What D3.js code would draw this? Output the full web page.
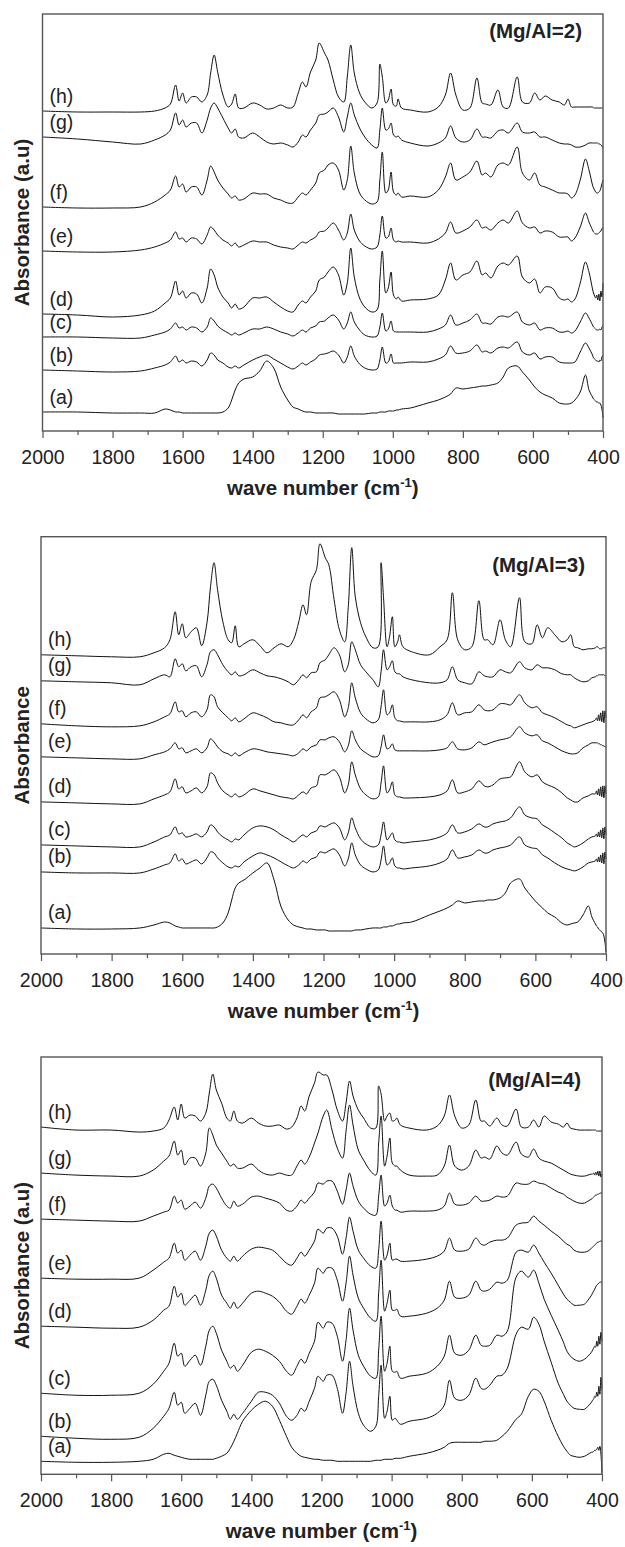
<!DOCTYPE html>
<html lang="en">
<head>
<meta charset="utf-8">
<title>FTIR spectra, Mg/Al = 2, 3, 4</title>
<style>
   body { margin:0; background:#fff; }
   svg { display:block; font-family:"Liberation Sans", Arial, sans-serif; }
   .spec { fill:none; stroke:#111; stroke-width:1; stroke-linejoin:round; }
   .frame { fill:none; stroke:#555; stroke-width:1.4; }
   .axis path { display:none; }
   .axis line { stroke:#555; stroke-width:1.2; }
   .axis text { font-size:19.5px; fill:#222; font-family:"Liberation Sans", Arial, sans-serif; }
   .lab { font-size:19.5px; fill:#222; }
   .ttl { font-size:20.5px; font-weight:bold; fill:#222; }
</style>
<script src="https://cdn.jsdelivr.net/npm/d3@7"></script>
</head>
<body>
<svg id="chart" width="625" height="1547"></svg>
<script>
// shared wavenumber grid (cm-1), values at these points
var wavenumbers = [2000,1900,1800,1720,1680,1650,1635,1620,1610,1600,
   1590,1575,1560,1545,1530,1520,1510,1500,1485,1470,
   1460,1450,1440,1425,1400,1380,1360,1340,1320,1300,
   1285,1270,1258,1248,1235,1220,1210,1195,1185,1170,
   1155,1140,1130,1120,1110,1095,1080,1060,1045,1037,
   1030,1020,1013,1005,998,990,985,975,950,900,
   870,850,835,820,800,780,760,745,735,720,
   700,685,670,645,630,610,595,580,565,545,
   525,510,500,490,480,465,450,440,430,427,424,421,418,415,412,409,406,403,400];
var xTicks = [2000,1800,1600,1400,1200,1000,800,600,400];
var xMinor = [1900,1700,1500,1300,1100,900,700,500];
var sampleLabels = ['(a)','(b)','(c)','(d)','(e)','(f)','(g)','(h)'];
var ratioLabels = ['(Mg/Al=2)','(Mg/Al=3)','(Mg/Al=4)'];
var yTitles = ['Absorbance (a.u)','Absorbance','Absorbance (a.u)'];

// Mg/Al = 2 (absorbance, arbitrary stacked units)
var mg2_a = [19,19,18,18,18,22,21,19,19,18, 18,18,18,18,18,18,18,18,19,23, 31,41,48,52,54,60,70,63,44,31, 24,22,20,19,19,18,18,18,18,18, 17,17,17,17,17,17,17,18,18,19, 19,19,20,20,20,21,21,22,23,28, 31,34,37,43,42,43,44,45,45,46, 48,54,63,65,59,51,44,39,36,33,
   28,27,27,28,31,39,56,41, 34,32,31,30,29,29,28,28,26,22,13];
var mg2_b = [61,60,59,60,63,66,69,75,69,71, 68,70,69,65,71,78,76,71,68,64, 63,65,63,66,71,74,76,72,68,64, 62,65,68,66,69,72,76,77,78,80, 76,68,74,85,75,67,63,61,62,71, 84,68,69,77,68,68,68,68,69,69, 72,76,85,78,78,80,86,79,80,78, 83,84,83,89,79,76,78,72,74,74,
   69,68,68,68,69,79,88,83, 76,73,72,71,70,70,69,71,70,74,76];
var mg2_c = [94,94,93,93,96,99,102,108,103,104, 101,104,103,99,104,113,110,105,101,98, 96,98,96,98,102,102,104,102,99,97, 95,98,101,99,103,105,109,110,113,116, 111,102,108,119,109,101,96,94,95,104, 118,100,102,110,100,99,99,99,99,99, 102,106,116,106,108,111,117,108,108,107, 114,115,114,119,109,106,108,101,103,103,
   99,99,100,98,100,109,118,113, 106,104,103,102,101,101,101,102,101,104,105];
var mg2_d = [117,116,114,116,120,128,133,150,136,140, 133,138,137,128,143,162,156,144,134,128, 123,127,122,124,133,133,134,129,124,120, 119,126,130,128,134,140,151,154,159,164, 156,136,148,183,154,133,124,119,121,151, 180,138,143,159,136,132,134,130,131,132, 136,151,168,151,156,159,170,156,158,153, 165,168,166,175,154,148,152,138,144,143,
   133,131,132,129,132,148,169,159, 142,138,135,133,136,131,137,130,140,134,148];
var mg2_e = [180,179,179,181,184,188,191,199,192,193, 189,193,192,187,196,204,201,196,191,188, 185,188,184,186,190,189,189,186,184,183, 182,186,189,188,191,194,199,200,203,208, 201,191,198,217,201,190,185,182,184,196, 215,193,194,203,191,189,190,189,189,188, 192,198,209,198,200,204,211,203,204,201, 208,211,208,220,208,203,204,198,200,199,
   194,194,194,190,193,204,218,209, 201,199,198,197,197,197,198,199,200,202,204];
var mg2_f = [224,223,223,224,229,236,241,255,244,247, 239,244,244,236,251,265,259,251,243,237, 233,235,231,232,238,237,237,233,231,228, 228,234,238,236,241,248,258,261,266,268, 261,241,251,285,258,238,231,227,229,251, 279,238,241,259,239,236,238,234,235,234, 241,254,268,251,254,259,270,256,258,254, 266,268,266,284,258,251,258,246,244,241,
   238,238,237,233,236,251,272,261, 246,243,241,239,238,238,239,240,243,247,251];
var mg2_g = [294,292,289,287,291,296,301,318,306,311, 304,308,308,298,311,323,328,323,313,303, 298,302,294,293,298,294,289,287,288,286, 284,289,296,294,301,308,316,317,319,323, 314,299,314,328,316,303,294,286,283,301, 323,301,302,308,296,294,295,291,288,285, 288,293,305,293,289,291,302,294,294,293, 300,301,298,308,299,298,299,294,294,291,
   288,287,287,286,284,284,286,288, 288,288,288,288,288,288,287,287,286,285,283];
var mg2_h = [320,319,319,319,320,323,327,346,330,338, 328,334,334,329,336,358,376,359,336,324, 327,337,323,323,328,326,322,323,326,323, 324,338,349,344,359,371,388,378,371,351, 334,329,354,386,358,338,329,323,328,367, 354,328,331,342,326,325,332,323,321,319, 324,336,358,336,321,323,353,328,327,326, 341,324,323,354,329,328,338,331,335,331,
   329,326,332,324,324,324,324,324, 324,323,323,323,323,323,323,323,323,323,324];

// Mg/Al = 3
var mg3_a = [26,25,25,26,29,32,31,28,27,26, 26,26,26,26,26,26,26,27,31,41, 54,66,71,74,81,86,91,74,47,34, 29,27,26,25,25,24,24,24,23,23, 23,23,23,23,24,24,25,26,26,26, 27,27,28,28,29,30,30,31,32,39, 43,46,49,53,51,52,53,53,54,54, 56,61,71,75,66,57,51,46,41,37,
   31,29,30,31,32,39,48,37, 30,28,27,25,24,23,22,21,18,12,2];
var mg3_b = [82,81,81,81,85,89,91,100,93,95, 90,92,94,90,96,102,101,96,91,87, 86,88,87,92,98,101,99,96,92,88, 86,89,93,91,95,97,102,101,103,105, 99,88,95,111,99,89,85,82,84,94, 108,89,91,96,88,86,86,85,86,88, 91,95,104,96,97,99,104,101,101,104, 106,107,109,117,109,106,105,99,96,91,
   87,85,84,83,84,87,91,92, 93,95,92,97,92,99,91,101,90,102,95];
var mg3_c = [109,108,107,107,112,117,119,127,120,121, 117,118,120,117,122,129,127,122,117,114, 112,115,114,119,126,128,127,124,119,115, 112,116,119,117,121,123,128,127,129,131, 126,114,121,136,126,115,110,107,109,119, 132,114,117,121,114,112,112,111,112,114, 117,121,129,121,122,125,130,127,127,130, 132,133,136,147,139,136,135,129,126,121,
   116,111,109,107,108,111,115,117, 118,120,117,122,117,124,116,126,115,127,119];
var mg3_d = [152,151,150,150,155,159,162,175,165,167, 161,163,166,161,167,181,179,171,163,159, 157,160,157,159,165,163,161,159,157,156, 155,159,162,160,166,168,179,179,181,184, 177,161,169,192,179,165,159,155,157,171, 188,161,164,172,159,157,157,156,156,157, 159,163,174,161,162,165,173,168,167,169, 175,176,177,192,182,177,179,172,169,166,
   161,156,154,152,152,156,158,160, 160,163,159,165,158,167,157,168,156,168,160];
var mg3_e = [197,196,195,195,199,202,205,211,205,206, 201,203,205,201,206,215,212,207,202,200, 198,201,198,201,205,204,202,201,200,199, 198,201,205,203,207,209,214,214,216,217, 212,202,208,223,214,205,201,197,198,207, 219,205,206,210,204,203,203,203,203,203, 204,206,212,205,204,206,212,209,210,212, 214,215,217,227,221,218,219,213,211,207,
   203,201,200,200,201,206,209,211, 211,211,211,210,210,209,209,208,208,207,207];
var mg3_f = [230,228,227,228,232,237,240,252,242,243, 237,241,242,237,244,259,257,247,241,236, 233,236,232,235,241,239,236,232,231,229, 229,234,239,236,242,246,256,257,259,262, 254,237,246,271,256,241,235,231,234,247, 264,239,241,249,236,233,233,232,232,232, 234,239,251,239,241,242,249,244,243,244, 250,250,249,259,251,246,247,241,239,236,
   232,229,228,226,227,229,231,232, 234,236,233,239,233,241,232,243,231,243,236];
var mg3_g = [273,272,271,269,275,279,277,295,287,290, 283,287,288,277,289,302,304,299,289,282, 279,282,278,279,284,281,278,277,275,272, 269,274,279,276,281,282,291,294,299,306, 299,282,289,312,304,289,282,274,267,282, 304,284,287,293,282,280,280,277,274,271, 271,274,287,274,271,270,282,278,277,277, 284,282,281,292,286,284,289,286,286,284,
   280,279,279,276,274,272,273,276, 277,278,278,279,279,279,279,279,279,278,278];
var mg3_h = [299,298,297,297,301,306,314,342,319,330, 316,322,326,308,331,367,391,364,332,314, 311,328,307,310,314,308,301,306,310,307, 314,332,349,339,372,384,410,396,389,354, 324,312,346,406,357,331,317,306,307,391, 356,307,317,337,307,312,319,307,302,299, 307,314,361,314,304,307,353,314,314,309, 334,314,307,356,312,310,329,316,326,319,
   312,314,319,307,306,304,305,305, 306,307,307,306,305,305,305,306,306,306,307];

// Mg/Al = 4
var mg4_a = [13,12,12,13,15,20,21,19,18,17, 16,15,15,15,15,15,15,16,18,21, 26,33,41,53,64,70,73,68,54,38, 27,21,18,17,16,15,15,14,14,14, 13,13,13,13,13,13,13,13,14,14, 14,15,15,15,15,16,16,16,18,21, 24,27,31,32,32,32,32,32,33,33, 34,38,43,55,60,78,85,83,73,54,
   38,28,23,19,18,17,18,20, 22,22,23,24,24,25,27,24,28,20,1];
var mg4_b = [38,36,35,37,46,58,66,82,69,72, 61,66,71,59,79,93,95,89,74,63, 55,60,55,61,73,82,82,79,71,58, 54,59,66,63,73,86,98,93,99,99, 86,61,81,113,88,61,49,43,48,78, 109,56,63,78,54,56,54,50,53,56, 61,69,94,76,74,79,96,86,85,89, 98,99,106,140,147,145,157,150,133,112,
   91,80,73,69,66,65,65,68, 72,74,75,78,77,82,78,88,80,97,85];
var mg4_c = [81,79,79,81,90,103,111,131,118,121, 108,114,119,109,128,144,148,141,124,113, 106,109,103,109,122,125,123,119,113,103, 99,108,115,111,121,133,152,146,152,151, 138,113,134,166,144,119,108,98,96,124, 158,103,111,128,103,102,103,96,98,101, 108,118,139,121,119,124,139,129,128,129, 139,138,143,197,203,197,204,191,175,159,
   144,132,123,118,115,113,115,118, 122,124,126,128,127,133,128,138,130,142,133];
var mg4_d = [148,147,146,147,154,164,168,188,177,181, 169,174,179,169,184,199,203,196,179,171, 166,172,166,171,181,183,181,178,172,163, 160,168,175,171,179,191,206,201,206,206, 194,173,191,218,199,176,166,156,153,181, 214,163,171,184,164,164,165,158,158,161, 166,174,193,177,176,179,193,184,183,185, 192,191,194,222,224,222,229,221,212,201,
   189,180,175,172,169,169,170,174, 179,181,183,185,187,189,190,191,192,192,192];
var mg4_e = [196,195,195,196,204,212,216,231,221,224, 214,219,223,214,228,241,244,238,224,216, 213,218,213,218,225,227,226,224,218,211, 209,216,222,218,224,233,245,241,246,246, 238,220,236,257,243,224,216,208,206,224, 253,214,219,231,214,215,215,213,213,215, 218,223,236,224,223,225,236,230,229,232, 234,234,236,249,251,252,258,253,249,243,
   238,233,230,228,224,222,222,223, 226,227,228,229,230,231,232,232,233,233,233];
var mg4_f = [255,254,253,253,258,262,264,278,271,274, 265,268,272,266,276,288,290,286,276,268, 266,273,268,270,277,278,276,274,271,264, 263,268,274,271,276,282,291,290,293,293, 283,270,284,301,288,273,266,260,259,278, 299,268,271,279,268,264,264,262,263,263, 264,268,281,270,269,271,278,273,273,274, 278,277,278,291,290,290,293,291,290,286,
   282,280,277,275,273,271,271,273, 275,276,277,278,279,279,280,280,281,281,281];
var mg4_g = [301,299,298,298,304,313,318,333,319,324, 309,316,316,308,321,346,339,329,321,313, 308,310,306,306,310,304,300,299,301,299, 299,308,314,310,317,331,341,358,364,344, 326,316,343,369,349,324,314,303,299,331, 358,308,318,336,311,308,308,304,299,298, 299,308,329,308,304,308,324,316,317,315, 328,321,319,332,320,317,325,316,313,311,
   307,304,302,300,299,298,298,299, 300,300,301,299,302,299,303,298,303,297,300];
var mg4_h = [347,344,344,342,343,346,354,367,354,370, 356,359,358,353,361,381,400,384,371,356, 353,363,353,351,356,351,348,348,349,345, 347,356,368,363,378,391,402,399,399,384, 364,353,371,393,378,364,356,346,346,388, 380,353,358,361,353,354,356,349,346,344, 348,358,379,358,346,349,374,353,353,348, 356,349,348,365,347,347,354,347,358,352,
   350,347,351,346,345,344,344,344, 344,344,344,344,344,343,343,343,343,343,343];

var mg2Series = [mg2_a,mg2_b,mg2_c,mg2_d,mg2_e,mg2_f,mg2_g,mg2_h];
var mg3Series = [mg3_a,mg3_b,mg3_c,mg3_d,mg3_e,mg3_f,mg3_g,mg3_h];
var mg4Series = [mg4_a,mg4_b,mg4_c,mg4_d,mg4_e,mg4_f,mg4_g,mg4_h];

// panel frames on the page
var panels = [
   {series:mg2Series, left:42.5, right:603, top:14, bottom:431, tagDy:23.5},
   {series:mg3Series, left:41, right:606, top:536.7, bottom:954, tagDy:35},
   {series:mg4Series, left:41, right:602, top:1057, bottom:1474.3, tagDy:29.5}
];

var svg = d3.select('#chart');

panels.forEach(function(p, k) {
   var g = svg.append('g');
   var x = d3.scaleLinear().domain([2000,400]).range([p.left,p.right]);
   var y = d3.scaleLinear().domain([0,417]).range([p.bottom,p.top]);

   var line = d3.line()
      .x(function(d,i) { return x(wavenumbers[i]); })
      .y(function(d) { return y(d); })
      .curve(d3.curveCatmullRom.alpha(0.5));

   g.selectAll('path.spec')
      .data(p.series)
      .enter()
      .append('path')
      .attr('class','spec')
      .attr('d', line);

   // sample labels sit just above each trace's left end
   g.selectAll('text.lab')
      .data(p.series)
      .enter()
      .append('text')
      .attr('class','lab')
      .attr('x', p.left + 7)
      .attr('y', function(d) { return y(d[0]) - 8.5; })
      .text(function(d,i) { return sampleLabels[i]; });

   g.append('rect')
      .attr('class','frame')
      .attr('x', p.left).attr('y', p.top)
      .attr('width', p.right - p.left).attr('height', p.bottom - p.top);

   g.append('g')
      .attr('class','axis')
      .attr('transform','translate(0,'+p.bottom+')')
      .call(d3.axisBottom(x).tickValues(xTicks).tickSize(7).tickPadding(12).tickFormat(d3.format('d')));
   g.append('g')
      .attr('class','axis')
      .attr('transform','translate(0,'+p.bottom+')')
      .call(d3.axisBottom(x).tickValues(xMinor).tickSize(4).tickFormat(''));

   var xt = g.append('text')
      .attr('class','ttl')
      .attr('text-anchor','middle')
      .attr('x', (p.left + p.right)/2)
      .attr('y', p.bottom + 64);
   xt.append('tspan').text('wave number (cm');
   xt.append('tspan').attr('font-size','13px').attr('dy','-8').text('-1');
   xt.append('tspan').attr('dy','8').text(')');

   g.append('text')
      .attr('class','ttl')
      .attr('text-anchor','middle')
      .attr('transform','translate(29,'+((p.top + p.bottom)/2)+') rotate(-90)')
      .text(yTitles[k]);

   g.append('text')
      .attr('class','ttl')
      .attr('text-anchor','end')
      .attr('x', p.right - 21)
      .attr('y', p.top + p.tagDy)
      .text(ratioLabels[k]);
});
</script>
</body>
</html>
